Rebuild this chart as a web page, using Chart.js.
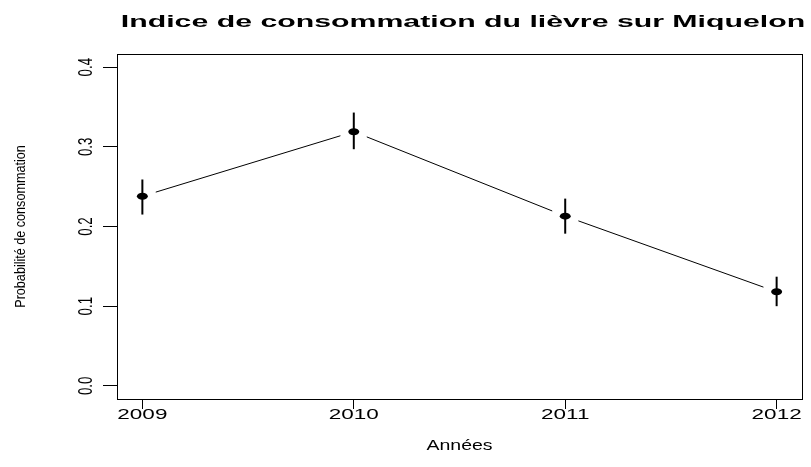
<!DOCTYPE html>
<html>
<head>
<meta charset="utf-8">
<script src="https://cdn.jsdelivr.net/npm/chart.js@4"></script>
<style>
    html, body { margin: 0; padding: 0; background: #fff; }
    #wrap { width: 811px; height: 467px; }
</style>
</head>
<body>
<div id="wrap"><canvas id="lievreChart"></canvas></div>
<script>
const years = [2009, 2010, 2011, 2012];
const consumption = [0.238, 0.319, 0.213, 0.118];
const errLow = [0.215, 0.297, 0.191, 0.100];
const errHigh = [0.259, 0.343, 0.235, 0.137];
const xTicks = [2009, 2010, 2011, 2012];
const yTicks = [0.0, 0.1, 0.2, 0.3, 0.4];

const TITLE = "Indice de consommation du lièvre sur Miquelon";
const X_TITLE = "Années";
const Y_TITLE = "Probabilité de consommation";
const FONT = '"Liberation Sans", Arial, sans-serif';

// draws stretched text like the R output (sx = along text, sy = across)
function stretchedText(ctx, text, x, y, font, sx, sy, rotate) {
    ctx.save();
    ctx.translate(x, y);
    if (rotate) ctx.rotate(-Math.PI / 2);
    ctx.scale(sx, sy);
    ctx.font = font;
    ctx.fillStyle = "#000";
    ctx.textAlign = "center";
    ctx.textBaseline = "middle";
    ctx.fillText(text, 0, 0);
    ctx.restore();
}

const rPlot = {
    id: "rPlot",
    afterDatasetsDraw(chart) {
        const ctx = chart.ctx;
        const xs = chart.scales.x;
        const ys = chart.scales.y;
        const area = chart.chartArea;
        const pts = chart.getDatasetMeta(0).data;

        ctx.save();
        ctx.strokeStyle = "#000";
        ctx.fillStyle = "#000";

        // line with gaps around the points (type = "b")
        ctx.lineWidth = 1;
        const gap = 14;
        for (let i = 0; i < pts.length - 1; i++) {
            const a = pts[i], b = pts[i + 1];
            const dx = b.x - a.x, dy = b.y - a.y;
            const len = Math.hypot(dx, dy);
            const ux = dx / len, uy = dy / len;
            ctx.beginPath();
            ctx.moveTo(a.x + ux * gap, a.y + uy * gap);
            ctx.lineTo(b.x - ux * gap, b.y - uy * gap);
            ctx.stroke();
        }

        // error bars
        ctx.lineWidth = 2;
        years.forEach((yr, i) => {
            const px = xs.getPixelForValue(yr);
            ctx.beginPath();
            ctx.moveTo(px, ys.getPixelForValue(errLow[i]));
            ctx.lineTo(px, ys.getPixelForValue(errHigh[i]));
            ctx.stroke();
        });

        // points
        pts.forEach((p) => {
            ctx.beginPath();
            ctx.ellipse(p.x, p.y, 5.5, 3.5, 0, 0, Math.PI * 2);
            ctx.fill();
        });

        // box
        ctx.lineWidth = 1;
        ctx.strokeRect(area.left + 0.5, area.top + 0.5, area.right - area.left, area.bottom - area.top);
        ctx.restore();

        // texts
        stretchedText(ctx, TITLE, 463, 22, "bold 17px " + FONT, 1.78, 1, false);
        xTicks.forEach((t) => {
            stretchedText(ctx, String(t), xs.getPixelForValue(t), 415, "15px " + FONT, 1.5, 1, false);
        });
        stretchedText(ctx, X_TITLE, (area.left + area.right) / 2, 446, "15px " + FONT, 1.3, 1, false);
        yTicks.forEach((t) => {
            stretchedText(ctx, t.toFixed(1), 87, ys.getPixelForValue(t), "14px " + FONT, 0.95, 1.4, true);
        });
        stretchedText(ctx, Y_TITLE, 21, (area.top + area.bottom) / 2, "14px " + FONT, 0.9, 1.0, true);
    },
};

new Chart(document.getElementById("lievreChart"), {
    type: "line",
    data: {
        datasets: [
            {
                label: "Probabilité",
                data: years.map((yr, i) => ({ x: yr, y: consumption[i] })),
                showLine: false,
                pointRadius: 0,
                borderColor: "#000",
                backgroundColor: "#000",
            },
        ],
    },
    options: {
        responsive: true,
        maintainAspectRatio: false,
        animation: false,
        layout: { padding: { left: 103, top: 54, right: 9, bottom: 58 } },
        plugins: {
            legend: { display: false },
            tooltip: { enabled: false },
            title: { display: false },
        },
        scales: {
            x: {
                type: "linear",
                min: 2008.88,
                max: 2012.12,
                afterBuildTicks: (scale) => {
                    scale.ticks = xTicks.map((v) => ({ value: v }));
                },
                ticks: { display: false },
                grid: { drawOnChartArea: false, tickLength: 10, color: "#000", lineWidth: 1 },
                border: { display: false },
            },
            y: {
                type: "linear",
                min: -0.0165,
                max: 0.4165,
                afterBuildTicks: (scale) => {
                    scale.ticks = yTicks.map((v) => ({ value: v }));
                },
                ticks: { display: false },
                grid: { drawOnChartArea: false, tickLength: 14, color: "#000", lineWidth: 1 },
                border: { display: false },
            },
        },
    },
    plugins: [rPlot],
});
</script>
</body>
</html>
